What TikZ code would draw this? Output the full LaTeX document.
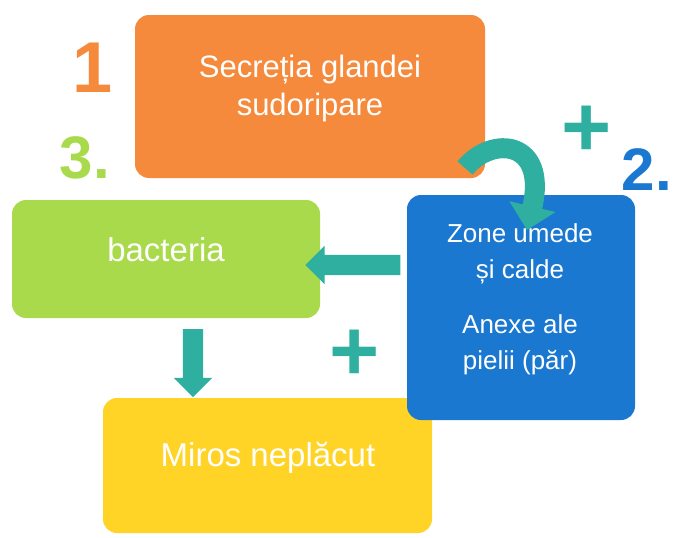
\documentclass[tikz,border=0pt]{standalone}
\usepackage{fontspec}
\setmainfont{Liberation Sans}
\usetikzlibrary{shapes.arrows,arrows.meta}
\definecolor{cor}{HTML}{F58A3C}
\definecolor{cgr}{HTML}{A9DA4C}
\definecolor{cbl}{HTML}{1A78D0}
\definecolor{cye}{HTML}{FFD426}
\definecolor{cte}{HTML}{2FAFA0}
\begin{document}
\begin{tikzpicture}[x=1pt,y=-1pt,
  box/.style={text=white,font=\fontsize{31}{38}\selectfont,align=center},
  blk/.style={single arrow,fill=cte,draw=none,single arrow head extend=9pt,minimum height=#1,inner sep=10pt}]
\useasboundingbox (0,0) rectangle (683,538);
\fill[cor,rounded corners=14pt] (135,15) rectangle (485,178);
\node[box] (or) at (310,88) {Secreția glandei\\sudoripare};
\fill[cgr,rounded corners=14pt] (12,200) rectangle (320,318);
\node[box,font=\fontsize{33}{38}\selectfont] (grt) at (166,250) {bacteria};
\fill[cye,rounded corners=14pt] (103,398) rectangle (432,533);
\node[box,font=\fontsize{33}{38}\selectfont] (ye) at (268,458) {Miros neplăcut};
\fill[cbl,rounded corners=14pt] (407,195) rectangle (635,420);
\node[box,font=\fontsize{26}{36}\selectfont] (bl1) at (520,254) {Zone umede\\și calde};
\node[box,font=\fontsize{26}{36}\selectfont] (bl2) at (520,345) {Anexe ale\\pielii (păr)};
\node[blk=95pt,shape border rotate=180] (la) at (358,265) {};
\node[blk=68pt,shape border rotate=270] (da) at (193,358) {};
\coordinate (c1) at (465,168);
\coordinate (c2) at (527,230);
\draw[cte,line width=20pt,-{Triangle[length=24pt,width=46pt]}] (c1) .. controls (492,135) and (548,140) .. (c2);
\node[text=cor,font=\bfseries\fontsize{72}{76}\selectfont] (n1) at (93,68) {1};
\node[text=cgr,font=\bfseries\fontsize{60}{66}\selectfont] (n3) at (85,158) {3.};
\node[text=cbl,font=\bfseries\fontsize{60}{66}\selectfont] (n2) at (647,170) {2.};
\node[text=cte,font=\bfseries\fontsize{86}{90}\selectfont] (p1) at (587,131) {+};
\node[text=cte,font=\bfseries\fontsize{86}{90}\selectfont] (p2) at (355,355) {+};
\end{tikzpicture}
\end{document}
